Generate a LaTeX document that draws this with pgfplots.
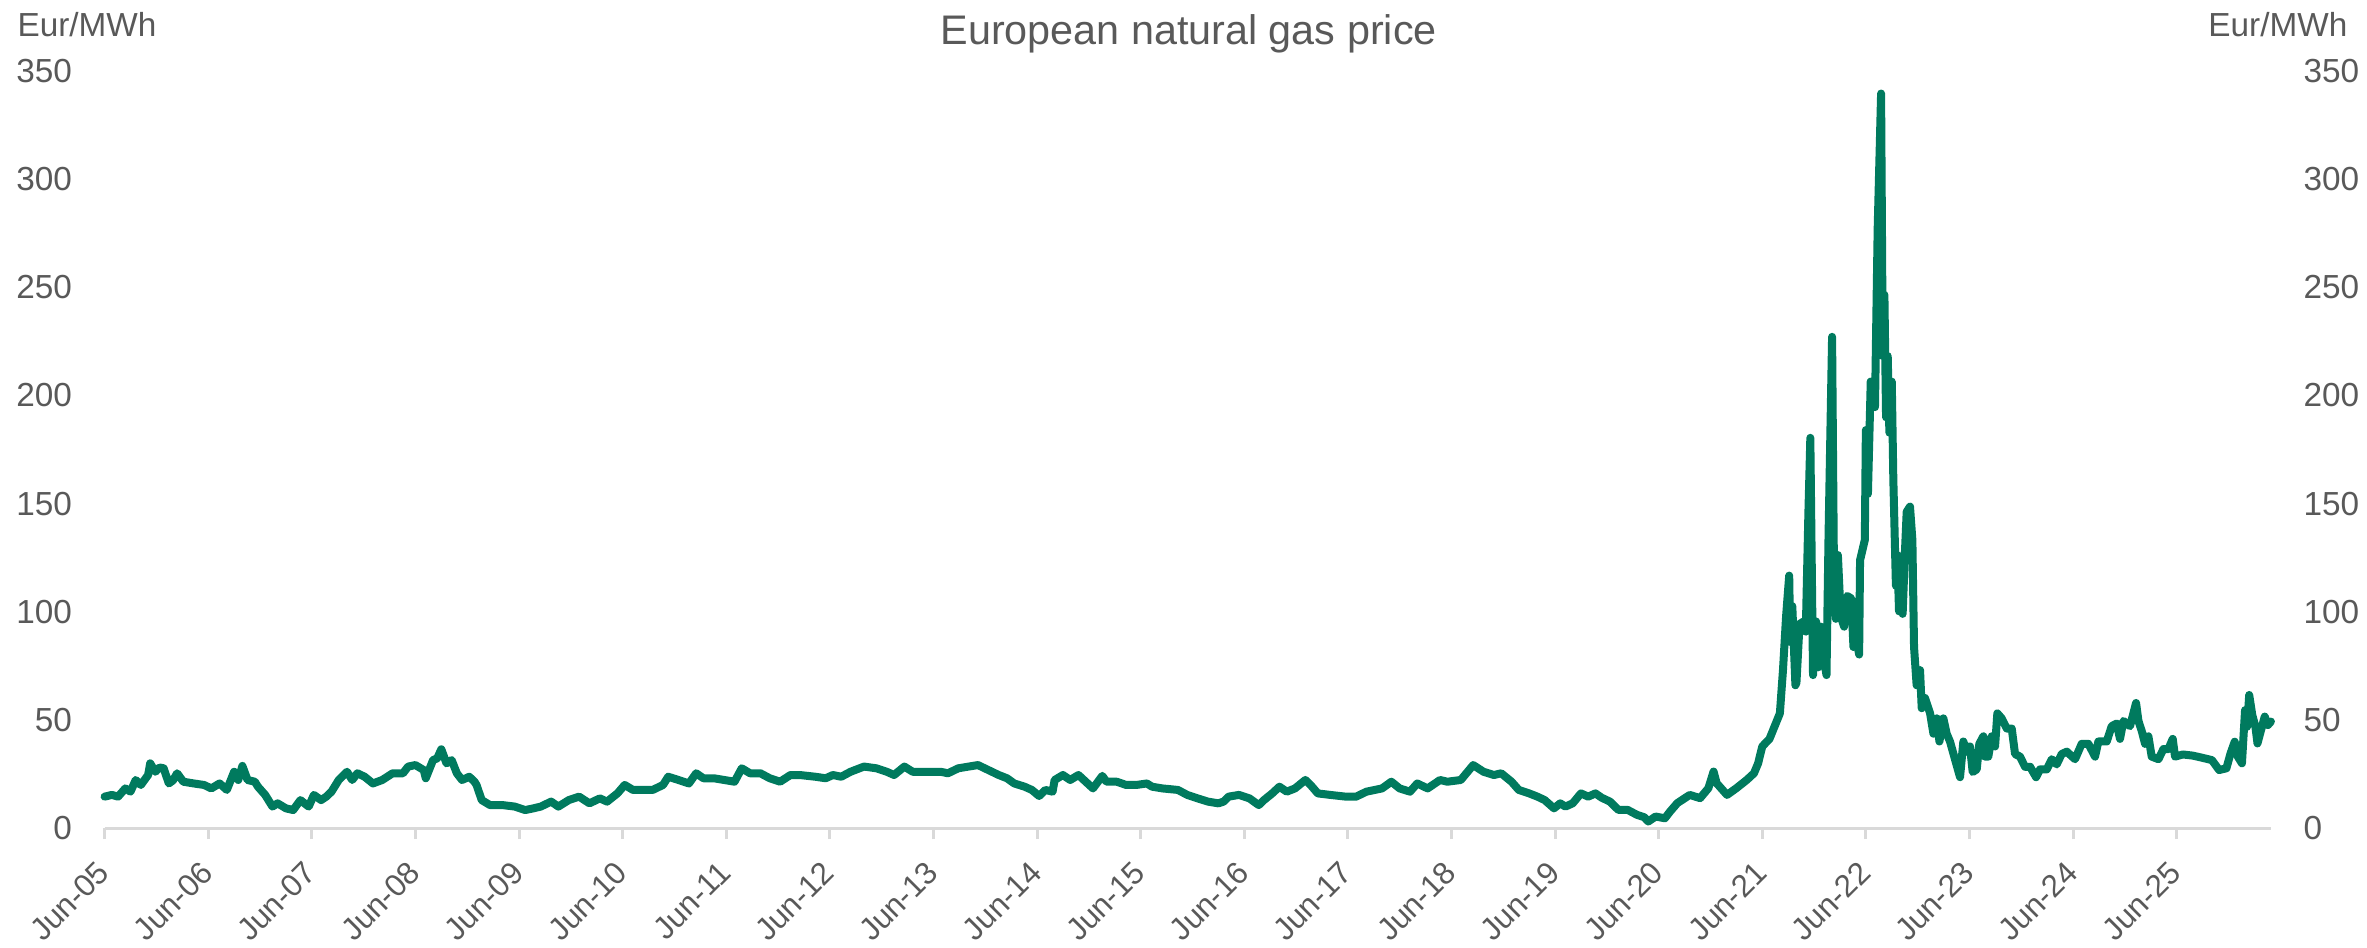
\documentclass[border=0pt]{standalone}
\usepackage{fontspec}
\setmainfont{Liberation Sans}
\usepackage{pgfplots}
\pgfplotsset{compat=1.18}
\definecolor{gasgreen}{RGB}{0,122,94}
\definecolor{txtgray}{RGB}{89,89,89}
\definecolor{axgray}{RGB}{217,217,217}
\pgfplotstableread{
t v
0.00 14.5
0.07 15.3
0.13 14.5
0.20 18.3
0.25 16.8
0.30 22.2
0.35 19.9
0.42 24.5
0.44 29.9
0.49 26.0
0.53 28.0
0.57 27.6
0.62 20.6
0.66 22.0
0.70 25.3
0.76 21.4
0.86 20.6
0.96 19.9
1.03 18.3
1.11 20.6
1.18 17.6
1.25 26.0
1.29 22.2
1.33 28.7
1.38 22.2
1.45 21.4
1.48 19.1
1.55 15.3
1.62 9.9
1.67 11.4
1.75 9.1
1.82 8.3
1.89 12.9
1.97 9.9
2.02 15.3
2.09 12.9
2.14 14.5
2.19 16.8
2.26 22.2
2.34 26.0
2.39 22.2
2.44 25.3
2.51 23.7
2.59 20.6
2.68 22.2
2.78 25.3
2.88 25.3
2.93 28.4
3.00 29.1
3.08 26.8
3.10 23.0
3.17 31.4
3.21 32.2
3.25 36.4
3.30 29.9
3.35 31.4
3.40 25.3
3.45 22.2
3.52 23.7
3.57 21.4
3.59 19.9
3.64 12.9
3.72 10.6
3.84 10.6
3.96 9.9
4.06 8.3
4.14 9.1
4.21 9.9
4.31 12.2
4.38 9.9
4.48 12.9
4.58 14.5
4.68 11.4
4.78 13.7
4.85 12.2
4.95 16.0
5.02 19.9
5.10 17.6
5.19 17.6
5.29 17.6
5.39 19.9
5.44 23.7
5.54 22.2
5.64 20.6
5.71 25.3
5.78 23.0
5.88 23.0
5.98 22.2
6.08 21.4
6.15 27.6
6.23 25.3
6.33 25.3
6.42 23.0
6.52 21.4
6.62 24.5
6.71 24.5
6.86 23.7
6.96 23.0
7.03 24.5
7.11 23.7
7.20 26.0
7.33 28.4
7.45 27.6
7.55 26.0
7.62 24.5
7.72 28.4
7.80 26.0
7.94 26.0
8.07 26.0
8.14 25.3
8.24 27.6
8.34 28.4
8.43 29.1
8.53 26.8
8.63 24.5
8.71 23.0
8.78 20.6
8.88 19.1
8.95 17.6
9.02 14.8
9.08 17.6
9.15 16.8
9.17 22.2
9.25 24.5
9.32 22.2
9.40 24.5
9.47 21.4
9.54 18.3
9.63 24.1
9.67 21.4
9.77 21.4
9.86 19.9
9.96 19.9
10.06 20.6
10.11 19.1
10.21 18.3
10.36 17.6
10.45 15.3
10.55 13.7
10.65 12.2
10.75 11.4
10.80 12.2
10.85 14.5
10.95 15.3
11.05 13.7
11.14 10.6
11.19 12.9
11.27 16.0
11.34 19.1
11.41 16.8
11.49 18.3
11.59 22.2
11.64 19.9
11.71 16.0
11.83 15.3
11.98 14.5
12.08 14.5
12.18 16.8
12.33 18.3
12.42 21.4
12.50 18.3
12.60 16.8
12.67 20.6
12.77 18.3
12.89 22.2
12.96 21.4
13.09 22.2
13.21 29.1
13.31 26.0
13.41 24.5
13.48 25.3
13.58 21.4
13.65 17.6
13.75 16.0
13.83 14.5
13.90 12.9
13.99 9.1
14.05 11.4
14.10 9.9
14.17 11.4
14.25 16.0
14.32 14.5
14.39 16.0
14.45 14.0
14.53 12.2
14.61 8.4
14.70 8.4
14.79 6.1
14.86 5.0
14.90 3.0
14.97 5.3
15.06 4.5
15.11 7.6
15.18 11.5
15.30 15.3
15.40 13.8
15.48 18.4
15.53 26.1
15.56 20.7
15.66 15.3
15.75 18.4
15.85 22.2
15.92 25.3
15.96 29.9
16.00 37.7
16.07 41.2
16.12 47.1
16.17 53.0
16.20 73.0
16.23 97.9
16.26 116.7
16.27 86.0
16.29 102.6
16.32 66.0
16.33 67.2
16.36 94.3
16.40 95.5
16.42 90.8
16.445 145.0
16.464 180.4
16.48 112.0
16.49 70.7
16.52 95.5
16.54 74.3
16.567 93.1
16.60 76.6
16.62 70.7
16.64 135.6
16.674 227.1
16.69 130.9
16.71 96.7
16.73 126.2
16.757 97.9
16.79 93.1
16.82 107.3
16.86 106.1
16.88 83.7
16.905 88.4
16.935 80.2
16.944 123.8
16.99 133.2
17.00 184.0
17.02 154.5
17.047 206.4
17.072 205.2
17.088 194.6
17.114 277.1
17.147 339.6
17.163 218.2
17.179 246.5
17.195 189.9
17.211 218.2
17.227 182.8
17.25 206.4
17.265 161.5
17.29 112.0
17.304 126.2
17.32 100.2
17.336 123.8
17.355 99.0
17.378 128.5
17.394 146.2
17.426 148.6
17.449 133.2
17.465 83.7
17.49 66.0
17.523 73.0
17.539 55.4
17.571 60.1
17.62 53.0
17.652 43.6
17.684 50.7
17.71 40.0
17.748 50.7
17.78 43.6
17.812 40.0
17.86 31.8
17.909 23.5
17.941 40.0
17.973 35.3
18.005 37.7
18.031 25.9
18.07 27.1
18.095 38.9
18.134 42.4
18.15 33.0
18.182 33.0
18.215 42.4
18.247 37.7
18.269 53.0
18.311 50.7
18.36 46.0
18.408 46.0
18.44 34.2
18.488 33.0
18.536 28.3
18.585 28.3
18.643 23.5
18.681 27.1
18.746 27.1
18.794 31.8
18.842 29.4
18.89 34.2
18.939 35.3
19.019 31.8
19.083 38.9
19.148 38.9
19.212 33.0
19.244 40.0
19.325 40.0
19.373 47.1
19.421 48.3
19.453 41.2
19.486 49.5
19.55 47.1
19.608 57.8
19.631 49.5
19.663 44.8
19.695 38.9
19.727 42.4
19.759 33.0
19.824 31.8
19.872 36.5
19.92 36.5
19.962 41.2
19.984 33.0
20.06 34.0
20.15 33.5
20.20 33.0
20.34 31.4
20.41 26.8
20.48 27.6
20.52 34.5
20.56 39.9
20.59 33.0
20.63 29.9
20.66 54.5
20.68 46.8
20.70 61.5
20.73 52.2
20.76 46.8
20.78 39.1
20.81 44.5
20.85 51.5
20.88 47.6
20.91 49.2
}\gasdata
\newcommand{\tickfont}{\fontsize{10bp}{12bp}\selectfont}
\begin{document}
\begin{tikzpicture}
\useasboundingbox (-31.38bp,-35.7bp) rectangle (678.72bp,248.4bp);
\begin{axis}[
  at={(0,0)}, anchor=south west,
  width=649.9bp, height=227.1bp, scale only axis,
  xmin=0, xmax=20.91, ymin=0, ymax=350,
  axis x line*=bottom, axis y line*=left,
  y axis line style={draw=none},
  x axis line style={axgray, line width=0.9bp},
  tick align=outside, major tick length=3.3bp,
  xtick={0,1,...,20},
  xticklabels={Jun-05,Jun-06,Jun-07,Jun-08,Jun-09,Jun-10,Jun-11,Jun-12,Jun-13,Jun-14,Jun-15,Jun-16,Jun-17,Jun-18,Jun-19,Jun-20,Jun-21,Jun-22,Jun-23,Jun-24,Jun-25},
  xtick style={axgray, line width=0.9bp},
  xticklabel style={shift={(-0.2bp,-8.4bp)}, rotate=45, anchor=east, inner sep=0pt, font=\fontsize{9.4bp}{12bp}\selectfont, text=txtgray},
  ytick={0,50,...,350},
  yticklabels={0,50,100,150,200,250,300,350},
  ytick style={draw=none},
  yticklabel style={anchor=east, inner sep=0pt, font=\tickfont, text=txtgray, xshift=-6.3bp},
  clip=false,
]
\addplot[gasgreen, line width=2.4bp, line join=round, line cap=round] table[x=t,y=v] {\gasdata};
\end{axis}
\begin{axis}[
  at={(0,0)}, anchor=south west,
  width=649.9bp, height=227.1bp, scale only axis,
  xmin=0, xmax=20.91, ymin=0, ymax=350,
  axis x line=none, axis y line*=right,
  y axis line style={draw=none},
  tick align=outside, major tick length=3.3bp,
  xtick=\empty,
  ytick={0,50,...,350},
  yticklabels={0,50,100,150,200,250,300,350},
  ytick style={draw=none},
  yticklabel style={anchor=west, inner sep=0pt, font=\tickfont, text=txtgray, xshift=6.3bp},
]
\addplot[draw=none] coordinates {(0,0)};
\end{axis}
\node[anchor=base west, inner sep=0pt, font=\tickfont, text=txtgray] at (-26.3bp,237.3bp) {Eur/MWh};
\node[anchor=base east, inner sep=0pt, font=\tickfont, text=txtgray] at (673bp,237.3bp) {Eur/MWh};
\node[anchor=base, inner sep=0pt, font=\fontsize{12.4bp}{14bp}\selectfont, text=txtgray] at (325.2bp,234.9bp) {European natural gas price};
\end{tikzpicture}
\end{document}
